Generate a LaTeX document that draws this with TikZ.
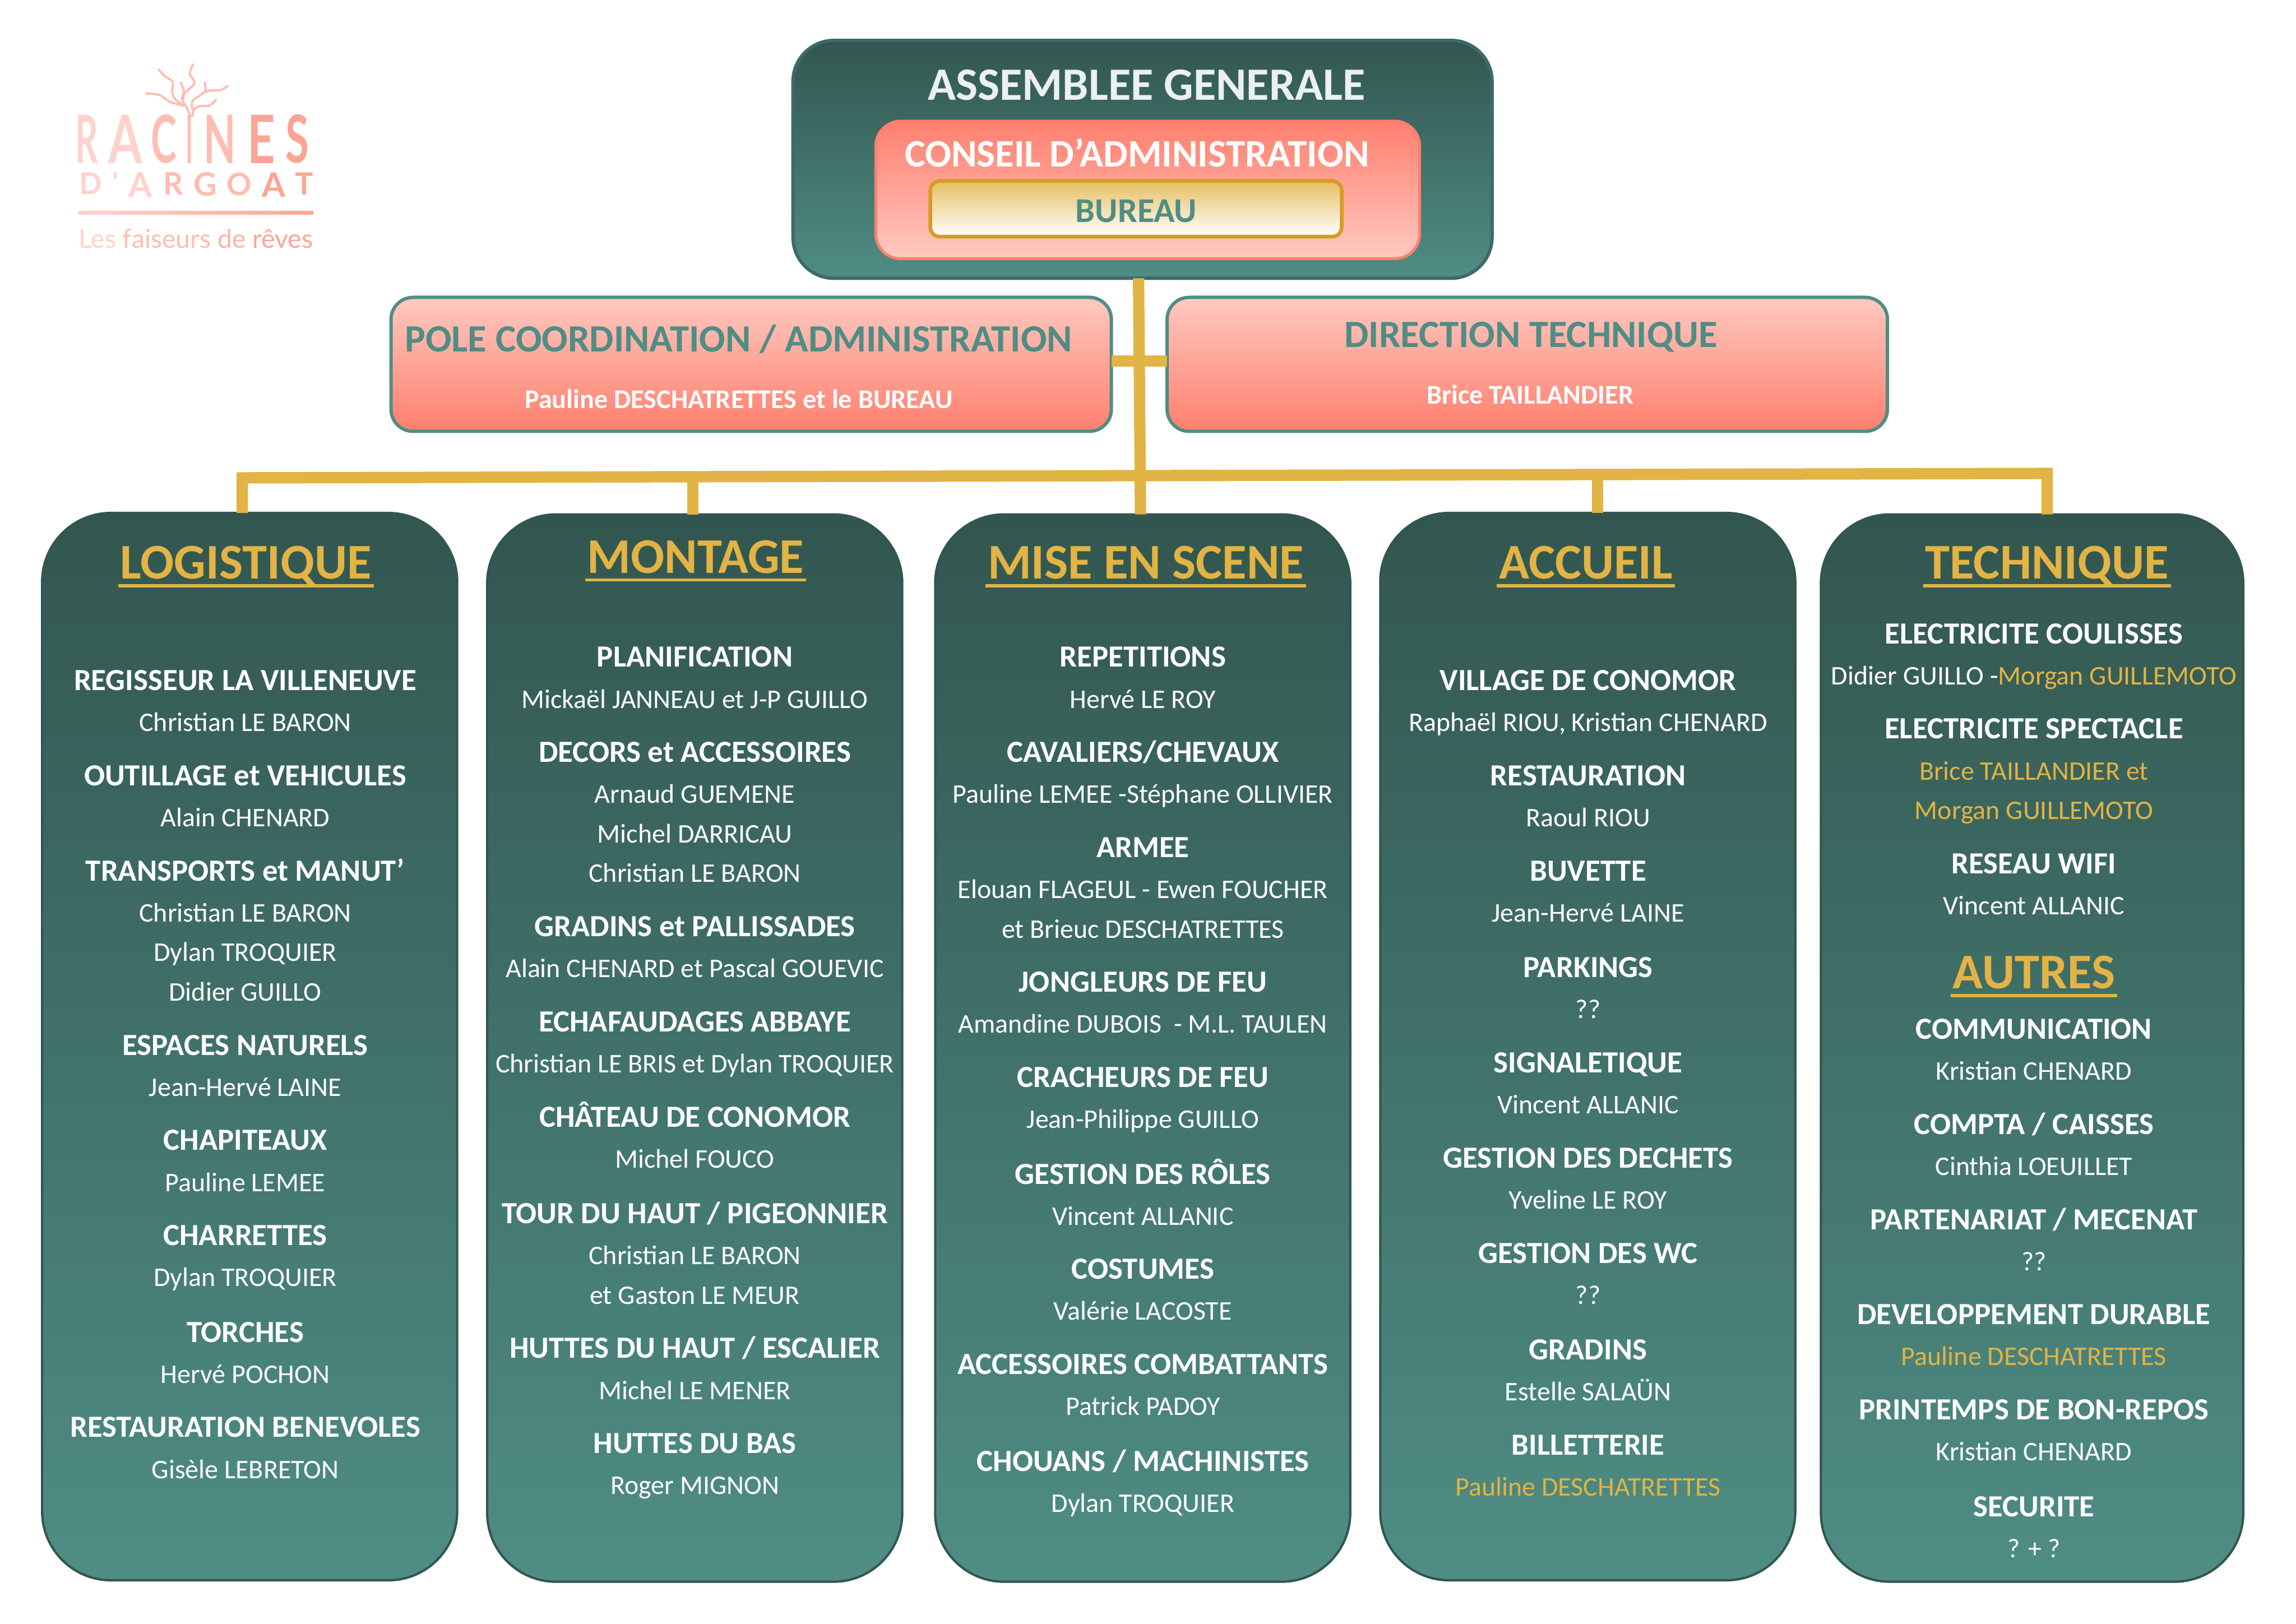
\documentclass[tikz,border=0pt]{standalone}
\usepackage{fontspec}
\setmainfont{Carlito}
\newfontfamily\logofont{Lato}
\usetikzlibrary{positioning, calc}

\definecolor{tealdark}{HTML}{32564F}
\definecolor{teallight}{HTML}{4F8D85}
\definecolor{tealline}{HTML}{3D6B65}
\definecolor{salmon}{HTML}{FF7F6E}
\definecolor{salmonpale}{HTML}{FFC9C0}
\definecolor{gold}{HTML}{E2B345}
\definecolor{golddark}{HTML}{D69B20}
\definecolor{logoa}{HTML}{FFD2CB}
\definecolor{logob}{HTML}{FFBDB2}
\definecolor{logoc}{HTML}{FCA595}

\newcommand{\goldunder}[1]{\setbox0\hbox{#1}\rlap{\kern-0.03cm\rule[-0.115cm]{\dimexpr\wd0+0.06cm\relax}{0.042cm}}\box0}

\tikzset{
  panelbox/.style = { rectangle, outer sep = 0pt, draw = tealdark, line width = 0.9pt
                    , top color = tealdark, bottom color = teallight
                    , rounded corners = 0.94cm, minimum width = 5.67cm, minimum height = 14.58cm },
  panelhead/.style = { anchor = base, inner sep = 0pt, yshift = -0.225cm, text = gold
                     , font = \fontsize{19.4}{21}\selectfont\bfseries },
  itemhead/.style = { anchor = base, inner sep = 0pt, yshift = -0.15cm, text = white
                    , font = \fontsize{11.95}{14}\selectfont\bfseries },
  itemname/.style = { anchor = base, inner sep = 0pt, yshift = -0.13cm, text = white
                    , font = \fontsize{10.45}{12}\selectfont },
  itemgold/.style = { itemname, text = gold },
  salmonbox/.style = { rectangle, outer sep = 0pt, draw = teallight, line width = 1.3pt
                     , top color = salmonpale, bottom color = salmon
                     , rounded corners = 0.3cm, minimum width = 9.84cm, minimum height = 1.83cm },
  busline/.style = { draw = gold, line width = 0.155cm },
  logochar/.style = { inner sep = 0pt, font = \logofont\bfseries },
  twig/.style = { draw = logob, line width = 0.85pt, line cap = round }
}

\begin{document}
\begin{tikzpicture}[x = 0.02cm, y = -0.02cm]

  \useasboundingbox (0,0) rectangle (1568,1108.75);

  % top boxes
  \node (assemblee) [rectangle, outer sep = 0pt, draw = tealline, line width = 1.3pt
                    , top color = tealdark, bottom color = teallight
                    , rounded corners = 0.56cm, minimum width = 9.55cm, minimum height = 3.25cm]
        at (780.25,108.8) {};
  \node (conseil) [rectangle, outer sep = 0pt, draw = salmon, line width = 1.1pt
                  , top color = salmon, bottom color = salmonpale
                  , rounded corners = 0.34cm, minimum width = 7.43cm, minimum height = 1.88cm]
        at (783.8,129.7) {};
  \node (bureau) [rectangle, outer sep = 0pt, draw = golddark, line width = 1.4pt
                 , top color = gold!85!white, bottom color = white
                 , rounded corners = 0.13cm, minimum width = 5.62cm, minimum height = 0.76cm]
        at (775.8,142.6) {};
  \node (assembleetxt) [panelhead, text = white!88!teallight
                       , font = \fontsize{18}{20}\selectfont\bfseries] at (783,57) {ASSEMBLEE GENERALE};
  \node (conseiltxt) [panelhead, text = white, yshift = 0.03cm
                     , font = \fontsize{15.1}{18}\selectfont\bfseries] at (776.5,104) {CONSEIL D’ADMINISTRATION};
  \node (bureautxt) [panelhead, text = teallight, yshift = 0.05cm
                    , font = \fontsize{13.5}{15}\selectfont\bfseries] at (776,143) {BUREAU};

  \node (pole) [salmonbox] at (513,248.8) {};
  \node (direction) [salmonbox] at (1043,248.8) {};
  \node (poletxt) [panelhead, text = teallight, yshift = 0.05cm
                  , font = \fontsize{15}{17}\selectfont\bfseries] at (504.5,231.5) {POLE COORDINATION / ADMINISTRATION};
  \node (polename) [itemhead, font = \fontsize{10.5}{12}\selectfont\bfseries, yshift = 0.02cm] at (504.5,272.5) {Pauline DESCHATRETTES et le BUREAU};
  \node (directiontxt) [panelhead, text = teallight, yshift = 0.05cm
                       , font = \fontsize{15}{17}\selectfont\bfseries] at (1045.5,228.5) {DIRECTION TECHNIQUE};
  \node (directionname) [itemhead, font = \fontsize{10.5}{12}\selectfont\bfseries, yshift = 0.02cm] at (1045,269.5) {Brice TAILLANDIER};

  % five columns
  \node (logistique) [panelbox] at (170.5,714.7) {};
  \node (montage) [panelbox, right = 0.41cm of logistique, yshift = -0.02cm] {};
  \node (miseenscene) [panelbox, right = 0.45cm of montage] {};
  \node (accueil) [panelbox, right = 0.41cm of miseenscene, yshift = 0.02cm] {};
  \node (technique) [panelbox, right = 0.35cm of accueil, yshift = -0.02cm, minimum width = 5.77cm] {};

  % connectors
  \coordinate (busleft) at (165.5,326.3);
  \coordinate (busright) at (1398,323.3);
  \coordinate (busmontage) at ($(busleft)!0.2495!(busright)$);
  \coordinate (busaccueil) at ($(busleft)!0.751!(busright)$);

  \draw[busline] ([xshift = -0.054cm]assemblee.south) -- ([xshift = -0.03cm]miseenscene.north);
  \draw[busline] ([yshift = 0.044cm]pole.east) -- ([yshift = 0.044cm]direction.west);
  \draw[busline] (logistique.north -| busleft) -- (busleft) -- (busright) -- (technique.north -| busright);
  \draw[busline] (busmontage) -- (montage.north -| busmontage);
  \draw[busline] (busaccueil) -- (accueil.north -| busaccueil);

  % column titles
  \node (logistiquetxt) [panelhead] at (168,384) {\goldunder{LOGISTIQUE}};
  \node (montagetxt) [panelhead] at (475,380) {\goldunder{MONTAGE}};
  \node (miseenscenetxt) [panelhead] at (782.5,384) {\goldunder{MISE EN SCENE}};
  \node (accueiltxt) [panelhead] at (1083,384) {\goldunder{ACCUEIL}};
  \node (techniquetxt) [panelhead] at (1398,384) {\goldunder{TECHNIQUE}};
  \node (autrestxt) [panelhead] at (1389,664) {\goldunder{AUTRES}};

  % column texts
  \foreach \y/\txt/\kind in {
      464/REGISSEUR LA VILLENEUVE/itemhead, 493/Christian LE BARON/itemname,
      529/OUTILLAGE et VEHICULES/itemhead, 558/Alain CHENARD/itemname,
      594/TRANSPORTS et MANUT’/itemhead, 623/Christian LE BARON/itemname,
      650/Dylan TROQUIER/itemname, 677/Didier GUILLO/itemname,
      713/ESPACES NATURELS/itemhead, 742/Jean-Hervé LAINE/itemname,
      778/CHAPITEAUX/itemhead, 807/Pauline LEMEE/itemname,
      843/CHARRETTES/itemhead, 872/Dylan TROQUIER/itemname,
      909/TORCHES/itemhead, 938/Hervé POCHON/itemname,
      974/RESTAURATION BENEVOLES/itemhead, 1003/Gisèle LEBRETON/itemname}
    \node (logistique\y) [\kind] at (167.5,\y) {\txt};

  \foreach \y/\txt/\kind in {
      448/PLANIFICATION/itemhead, 477/Mickaël JANNEAU et J-P GUILLO/itemname,
      513/DECORS et ACCESSOIRES/itemhead, 542/Arnaud GUEMENE/itemname,
      569/Michel DARRICAU/itemname, 596/Christian LE BARON/itemname,
      632/GRADINS et PALLISSADES/itemhead, 661/Alain CHENARD et Pascal GOUEVIC/itemname,
      697/ECHAFAUDAGES ABBAYE/itemhead, 726/Christian LE BRIS et Dylan TROQUIER/itemname,
      762/CHÂTEAU DE CONOMOR/itemhead, 791/Michel FOUCO/itemname,
      828/{TOUR DU HAUT / PIGEONNIER}/itemhead, 857/Christian LE BARON/itemname,
      884/et Gaston LE MEUR/itemname,
      920/{HUTTES DU HAUT / ESCALIER}/itemhead, 949/Michel LE MENER/itemname,
      985/HUTTES DU BAS/itemhead, 1014/Roger MIGNON/itemname}
    \node (montage\y) [\kind] at (474.5,\y) {\txt};

  \foreach \y/\txt/\kind in {
      448/REPETITIONS/itemhead, 477/Hervé LE ROY/itemname,
      513/{CAVALIERS/CHEVAUX}/itemhead, 542/Pauline LEMEE -Stéphane OLLIVIER/itemname,
      578/ARMEE/itemhead, 607/Elouan FLAGEUL - Ewen FOUCHER/itemname,
      634/et Brieuc DESCHATRETTES/itemname,
      670/JONGLEURS DE FEU/itemhead, 699/Amandine DUBOIS~ - M.L. TAULEN/itemname,
      735/CRACHEURS DE FEU/itemhead, 764/Jean-Philippe GUILLO/itemname,
      801/GESTION DES RÔLES/itemhead, 830/Vincent ALLANIC/itemname,
      866/COSTUMES/itemhead, 895/Valérie LACOSTE/itemname,
      931/ACCESSOIRES COMBATTANTS/itemhead, 960/Patrick PADOY/itemname,
      997/{CHOUANS / MACHINISTES}/itemhead, 1026/Dylan TROQUIER/itemname}
    \node (miseenscene\y) [\kind] at (780.5,\y) {\txt};

  \foreach \y/\txt/\kind in {
      464/VILLAGE DE CONOMOR/itemhead, 493/{Raphaël RIOU, Kristian CHENARD}/itemname,
      529/RESTAURATION/itemhead, 558/Raoul RIOU/itemname,
      594/BUVETTE/itemhead, 623/Jean-Hervé LAINE/itemname,
      660/PARKINGS/itemhead, 689/??/itemname,
      725/SIGNALETIQUE/itemhead, 754/Vincent ALLANIC/itemname,
      790/GESTION DES DECHETS/itemhead, 819/Yveline LE ROY/itemname,
      855/GESTION DES WC/itemhead, 884/??/itemname,
      921/GRADINS/itemhead, 950/Estelle SALAÜN/itemname,
      986/BILLETTERIE/itemhead, 1015/Pauline DESCHATRETTES/itemgold}
    \node (accueil\y) [\kind] at (1084.5,\y) {\txt};

  \foreach \y/\txt/\kind in {
      432/ELECTRICITE COULISSES/itemhead,
      461/{Didier GUILLO -\textcolor{gold}{Morgan GUILLEMOTO}}/itemname,
      497/ELECTRICITE SPECTACLE/itemhead, 526/Brice TAILLANDIER et/itemgold,
      553/Morgan GUILLEMOTO/itemgold,
      589/RESEAU WIFI/itemhead, 618/Vincent ALLANIC/itemname,
      702/COMMUNICATION/itemhead, 731/Kristian CHENARD/itemname,
      767/{COMPTA / CAISSES}/itemhead, 796/Cinthia LOEUILLET/itemname,
      832/{PARTENARIAT / MECENAT}/itemhead, 861/??/itemname,
      897/DEVELOPPEMENT DURABLE/itemhead, 926/Pauline DESCHATRETTES/itemgold,
      962/PRINTEMPS DE BON-REPOS/itemhead, 991/Kristian CHENARD/itemname,
      1028/SECURITE/itemhead, 1057/? + ?/itemname}
    \node (technique\y) [\kind] at (1389,\y) {\txt};

  % logo
  \draw[twig] plot[smooth] coordinates {(99.8,63.9) (108.9,64.8) (116.1,69.6) (125.2,72)};
  \draw[twig] plot[smooth] coordinates {(108.3,47.5) (112.5,52.1) (117.9,55.7) (117.6,63) (119.7,67.8) (125.2,72)};
  \draw[twig] plot[smooth] coordinates {(123.4,56.3) (125.5,61.8) (124.3,67.8) (127,72.6) (130.3,79.3)};
  \draw[twig] plot[smooth] coordinates {(131.9,43.9) (129.7,50.3) (132.8,56.9) (126.1,63.6) (125.2,67.8)};
  \draw[twig] plot[smooth] coordinates {(139.7,56.3) (140,62.4) (131.5,69) (131.5,75)};
  \draw[twig] plot[smooth] coordinates {(155.5,58.7) (150.6,61.5) (143.3,61.8) (139.7,63)};
  \draw[twig] plot[smooth] coordinates {(147.5,68) (143.3,72) (136,72.6) (132.4,75) (131.5,79.3)};

  \foreach \x/\w/\c/\ch [count=\i] in {
      59.4/0.31/logoa/R, 85.5/0.46/logoa/A, 111.8/0.35/logob/C, 129.3/0.1/logob/I,
      150/0.44/logob/N, 178.5/0.38/logoc/E, 203/0.32/logoc/S}
    \node (racines\i) [logochar, text = \c] at (\x,95) {\resizebox{\w cm}{0.66cm}{\ch}};

  \foreach \x/\w/\c/\ch [count=\i] in {
      62.1/0.31/logoa/D, 78.8/0.07/logoa/’, 96/0.32/logoa/A, 118.3/0.27/logob/R,
      140.2/0.32/logob/G, 163.5/0.34/logob/O, 186.8/0.32/logoc/A, 207.8/0.25/logoc/T}
    \node (argoat\i) [logochar, text = \c, anchor = north] at (\x,117.5) {\resizebox{\w cm}{!}{\ch}};

  \node (logorule) [rectangle, inner sep = 0pt, outer sep = 0pt, minimum width = 3.21cm, minimum height = 0.048cm
                   , left color = logoa, right color = logoc] at (133.75,145.2) {};
  \node (logoslogan) [logochar, font = \logofont\fontsize{10.1}{12}\selectfont, anchor = base] at (133.75,169.5)
        {\textcolor{logoa}{Les} \textcolor{logob}{faiseurs} \textcolor{logob!60!logoc}{de} \textcolor{logoc}{rêves}};

\end{tikzpicture}
\end{document}
